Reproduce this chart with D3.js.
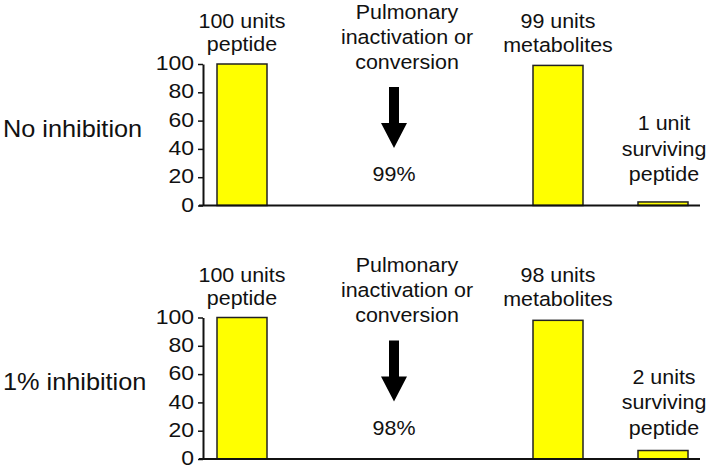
<!DOCTYPE html>
<html>
<head>
<meta charset="utf-8">
<script src="https://cdn.jsdelivr.net/npm/d3@7"></script>
<style>
    body { margin: 0; background: #fff; }
    svg text { font-family: "Liberation Sans", Arial, Helvetica, sans-serif; fill: #111; }
</style>
</head>
<body>
<svg id="chart" width="708" height="469"></svg>
<script>
// Chart data
const stages = ["peptide", "conversion", "metabolites", "surviving"];
const panelNames = ["No inhibition", "1% inhibition"];
const peptideUnits = [100, 100];
const metaboliteUnits = [99, 98];
const survivingUnits = [2.5, 6];
const conversionLabels = ["99%", "98%"];
const peptideLabels = [["100 units", "peptide"], ["100 units", "peptide"]];
const conversionText = ["Pulmonary", "inactivation or", "conversion"];
const metaboliteLabels = [["99 units", "metabolites"], ["98 units", "metabolites"]];
const survivingLabels = [["1 unit", "surviving", "peptide"], ["2 units", "surviving", "peptide"]];
const yTicks = [0, 20, 40, 60, 80, 100];

const svg = d3.select("#chart");

// Layout
const panelOffset = 253.5;
const axisX = 203;
const axisEnd = 700;
const barWidth = 50;
const stretch = 1.1;   // text in the original is a bit wide

const x = d3.scaleOrdinal()
    .domain(stages)
    .range([242, 394, 558, 663]);

const y = d3.scaleLinear()
    .domain([0, 100])
    .range([205.5, 64]);

// centered text with a horizontal stretch
function label(g, txt, cx, cy, size, anchor) {
    g.append("text")
        .attr("transform", `translate(${cx},${cy}) scale(${stretch},1)`)
        .attr("text-anchor", anchor || "middle")
        .attr("font-size", size)
        .text(txt);
}

panelNames.forEach((name, i) => {
    const g = svg.append("g")
        .attr("transform", `translate(0,${i * panelOffset})`);

    // Panel label
    label(g, name, 3, 136.5, 23, "start");

    // Bars
    const values = [
        { stage: "peptide", v: peptideUnits[i] },
        { stage: "metabolites", v: metaboliteUnits[i] },
        { stage: "surviving", v: survivingUnits[i] }
    ];
    g.selectAll("rect.bar")
        .data(values)
        .enter()
        .append("rect")
        .attr("class", "bar")
        .attr("x", d => x(d.stage) - barWidth / 2)
        .attr("y", d => y(d.v))
        .attr("width", barWidth)
        .attr("height", d => y(0) - y(d.v))
        .attr("fill", "#ffff00")
        .attr("stroke", "#222")
        .attr("stroke-width", 1.5);

    // Y axis
    const axis = g.append("g")
        .attr("transform", `translate(${axisX},0)`)
        .call(d3.axisLeft(y).tickValues(yTicks).tickSize(5).tickSizeOuter(0).tickPadding(4));
    axis.select(".domain").attr("stroke", "#111").attr("stroke-width", 2);
    axis.selectAll(".tick line").attr("stroke", "#111").attr("stroke-width", 1.5);
    axis.selectAll(".tick text")
        .attr("font-size", 20)
        .attr("x", -9 / 1.15)
        .attr("dy", "0.28em")
        .attr("transform", "scale(1.15,1)")
        .attr("fill", "#111");

    // Baseline
    g.append("line")
        .attr("x1", axisX - 4)
        .attr("x2", axisEnd)
        .attr("y1", y(0))
        .attr("y2", y(0))
        .attr("stroke", "#111")
        .attr("stroke-width", 2);

    // Labels above bars
    peptideLabels[i].forEach((t, k) => label(g, t, x("peptide"), 28 + k * 23, 19.5));
    metaboliteLabels[i].forEach((t, k) => label(g, t, x("metabolites"), 28 + k * 24, 19.5));
    survivingLabels[i].forEach((t, k) => label(g, t, x("surviving") + 1, 130 + k * 25.5, 19.5));
    conversionText.forEach((t, k) => label(g, t, 407, 18.5 + k * 25, 19.5));

    // Arrow
    const ax = x("conversion");
    const arrow = d3.path();
    arrow.moveTo(ax - 5, 87);
    arrow.lineTo(ax + 5, 87);
    arrow.lineTo(ax + 5, 123);
    arrow.lineTo(ax + 13, 123);
    arrow.lineTo(ax, 148);
    arrow.lineTo(ax - 13, 123);
    arrow.lineTo(ax - 5, 123);
    arrow.closePath();
    g.append("path")
        .attr("d", arrow.toString())
        .attr("fill", "#000");

    label(g, conversionLabels[i], ax, 181, 19.5);
});
</script>
</body>
</html>
